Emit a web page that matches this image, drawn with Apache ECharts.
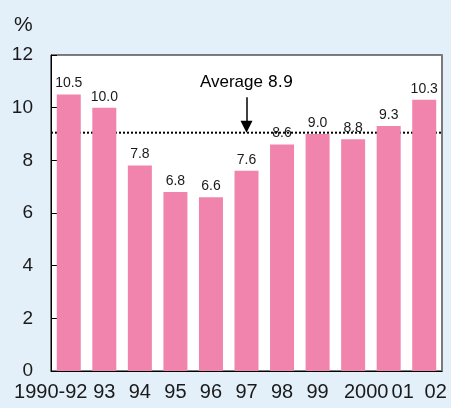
<!DOCTYPE html>
<html>
<head>
<meta charset="utf-8">
<script src="https://cdn.jsdelivr.net/npm/echarts@6/dist/echarts.min.js"></script>
<style>
  html, body { margin: 0; padding: 0; background: #e3f0fa; }
  #main { width: 451px; height: 408px; }
</style>
</head>
<body>
<div id="main"></div>
<script>
const years = ['1990-92', '93', '94', '95', '96', '97', '98', '99', '2000', '01', '02']
const rates = [10.5, 10.0, 7.8, 6.8, 6.6, 7.6, 8.6, 9.0, 8.8, 9.3, 10.3]
const averageText = '8.9'
const averageLineAt = 9.05
const arrowCategory = '97'
const arrowFrom = 10.4
const arrowTo = 9.28
const yTicks = [0, 12, 2] // min, max, step

// the source nudges a few year labels off their bar centres
const labelPadding = {
  '1990-92': [0, 36, 0, 0],
  '2000': [0, 0, 0, 26],
  '01': [0, 0, 0, 28],
  '02': [0, 0, 0, 23]
}

const font = 'Liberation Sans, Arial, sans-serif'
const chart = echarts.init(document.getElementById('main'))

chart.setOption({
  backgroundColor: '#e3f0fa',
  animation: false,
  title: {
    text: '%',
    left: 9,
    top: 10,
    textStyle: { fontFamily: font, fontSize: 21, fontWeight: 'normal', color: '#1a1a1a' }
  },
  grid: {
    left: 51, right: 9, top: 55, bottom: 37,
    show: true,
    backgroundColor: '#fff',
    borderColor: '#000',
    borderWidth: 1
  },
  xAxis: [{
    type: 'category',
    data: years.map(y => labelPadding[y]
      ? { value: y, textStyle: { padding: labelPadding[y] } }
      : y),
    axisTick: { show: false },
    axisLine: { lineStyle: { color: '#000', width: 1 } },
    axisLabel: { interval: 0, margin: 11, fontFamily: font, fontSize: 20, color: '#1a1a1a' }
  }, {
    // plain 0..1 span so the average line runs edge to edge
    type: 'value',
    min: 0,
    max: 1,
    show: false
  }],
  yAxis: [{
    type: 'value',
    min: yTicks[0],
    max: yTicks[1],
    interval: yTicks[2],
    splitLine: { show: false },
    axisLine: { show: true, lineStyle: { color: '#000', width: 1 } },
    axisTick: { show: true, inside: true, length: 6, lineStyle: { color: '#000' } },
    axisLabel: { margin: 18, fontFamily: font, fontSize: 19, color: '#1a1a1a' }
  }, {
    type: 'value',
    position: 'right',
    min: yTicks[0],
    max: yTicks[1],
    interval: yTicks[2],
    splitLine: { show: false },
    axisLine: { show: true, lineStyle: { color: '#7a7a7a', width: 2 } },
    axisTick: { show: false },
    axisLabel: { show: false }
  }],
  series: [{
    type: 'line',
    xAxisIndex: 1,
    data: [[0, averageLineAt], [1, averageLineAt]],
    z: 1,
    symbol: 'none',
    silent: true,
    lineStyle: { color: '#000', type: [2, 2], width: 2 }
  }, {
    // arrow pointing to the average line
    type: 'line',
    data: [],
    z: 1,
    markLine: {
      silent: true,
      symbol: 'none',
      data: [
        [
          {
            coord: [arrowCategory, arrowFrom],
            symbol: 'none',
            label: {
              show: true,
              position: 'start',
              distance: 6,
              formatter: 'Average {v|' + averageText + '}',
              fontFamily: font,
              fontSize: 17,
              color: '#000',
              rich: { v: { fontFamily: 'DejaVu Sans, sans-serif', fontSize: 16, color: '#000' } }
            }
          },
          { coord: [arrowCategory, arrowTo], symbol: 'triangle', symbolSize: [12, 12], symbolRotate: 180 }
        ]
      ],
      lineStyle: { color: '#000', type: 'solid', width: 1.5 }
    }
  }, {
    type: 'bar',
    data: rates,
    z: 3,
    barWidth: 24,
    itemStyle: { color: '#f084ad' },
    label: {
      show: true,
      position: 'top',
      distance: 4,
      formatter: p => p.value.toFixed(1),
      fontFamily: font,
      fontSize: 14,
      color: '#1a1a1a'
    }
  }]
})
</script>
</body>
</html>
